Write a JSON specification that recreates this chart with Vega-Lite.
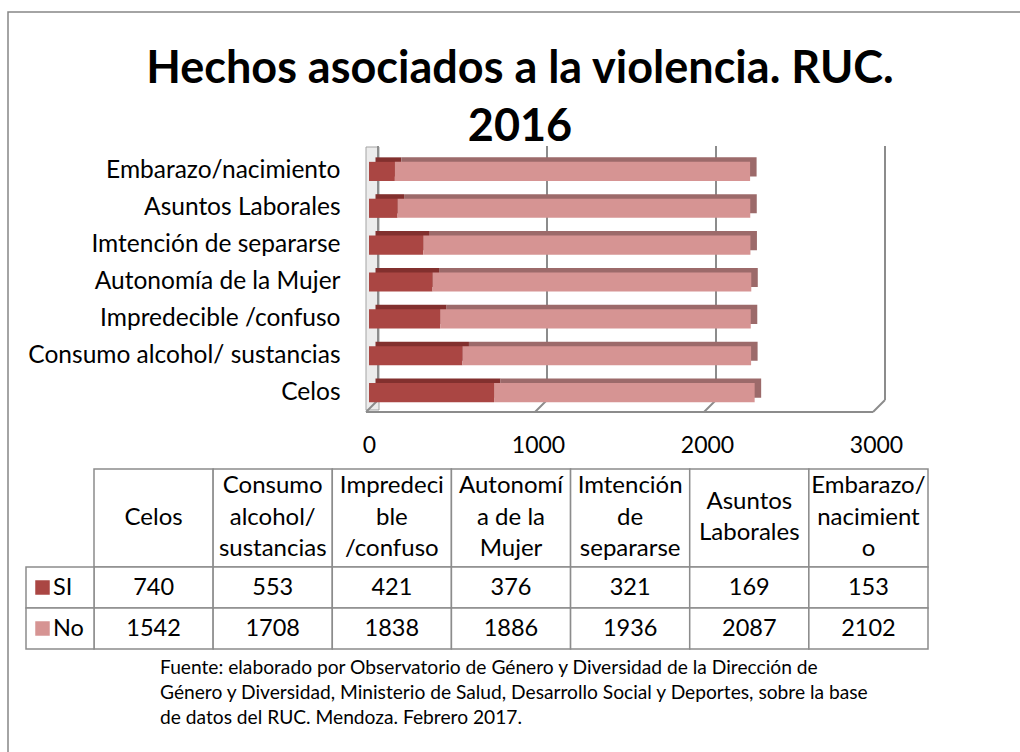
{
  "$schema": "https://vega.github.io/schema/vega-lite/v6.json",
  "width": 507,
  "height": 258,
  "autosize": {"type": "none"},
  "padding": {"left": 369, "top": 153, "right": 144, "bottom": 341},
  "background": "white",
  "config": {"view": {"stroke": null}, "font": "Lato"},
  "datasets": {
    "bars": [
      {"cat": "Celos", "serie": "SI", "value": 740},
      {"cat": "Celos", "serie": "No", "value": 1542},
      {"cat": "Consumo alcohol/ sustancias", "serie": "SI", "value": 553},
      {"cat": "Consumo alcohol/ sustancias", "serie": "No", "value": 1708},
      {"cat": "Impredecible /confuso\u00a0", "serie": "SI", "value": 421},
      {"cat": "Impredecible /confuso\u00a0", "serie": "No", "value": 1838},
      {"cat": "Autonomía de la Mujer", "serie": "SI", "value": 376},
      {"cat": "Autonomía de la Mujer", "serie": "No", "value": 1886},
      {"cat": "Imtención de separarse", "serie": "SI", "value": 321},
      {"cat": "Imtención de separarse", "serie": "No", "value": 1936},
      {"cat": "Asuntos Laborales", "serie": "SI", "value": 169},
      {"cat": "Asuntos Laborales", "serie": "No", "value": 2087},
      {"cat": "Embarazo/nacimiento", "serie": "SI", "value": 153},
      {"cat": "Embarazo/nacimiento", "serie": "No", "value": 2102}
    ],
    "cats": [
      {"cat": "Celos"},
      {"cat": "Consumo alcohol/ sustancias"},
      {"cat": "Impredecible /confuso\u00a0"},
      {"cat": "Autonomía de la Mujer"},
      {"cat": "Imtención de separarse"},
      {"cat": "Asuntos Laborales"},
      {"cat": "Embarazo/nacimiento"}
    ],
    "hdrlines": [
      {"cat": "Celos", "slot": "c", "txt": "Celos"},
      {"cat": "Consumo alcohol/ sustancias", "slot": "a", "txt": "Consumo"},
      {"cat": "Consumo alcohol/ sustancias", "slot": "c", "txt": "alcohol/"},
      {"cat": "Consumo alcohol/ sustancias", "slot": "e", "txt": "sustancias"},
      {"cat": "Impredecible /confuso\u00a0", "slot": "a", "txt": "Impredeci"},
      {"cat": "Impredecible /confuso\u00a0", "slot": "c", "txt": "ble"},
      {"cat": "Impredecible /confuso\u00a0", "slot": "e", "txt": "/confuso"},
      {"cat": "Autonomía de la Mujer", "slot": "a", "txt": "Autonomí"},
      {"cat": "Autonomía de la Mujer", "slot": "c", "txt": "a de la"},
      {"cat": "Autonomía de la Mujer", "slot": "e", "txt": "Mujer"},
      {"cat": "Imtención de separarse", "slot": "a", "txt": "Imtención"},
      {"cat": "Imtención de separarse", "slot": "c", "txt": "de"},
      {"cat": "Imtención de separarse", "slot": "e", "txt": "separarse"},
      {"cat": "Asuntos Laborales", "slot": "b", "txt": "Asuntos"},
      {"cat": "Asuntos Laborales", "slot": "d", "txt": "Laborales"},
      {"cat": "Embarazo/nacimiento", "slot": "a", "txt": "Embarazo/"},
      {"cat": "Embarazo/nacimiento", "slot": "c", "txt": "nacimient"},
      {"cat": "Embarazo/nacimiento", "slot": "e", "txt": "o"}
    ],
    "series": [{"serie": "SI"}, {"serie": "No"}],
    "grid": [{"v": 0}, {"v": 1000}, {"v": 2000}, {"v": 3000}],
    "titletext": [{"txt": "Hechos asociados a la violencia. RUC.\n2016"}],
    "note": [{"txt": "Fuente: elaborado por Observatorio de Género y Diversidad de la Dirección de\nGénero y Diversidad, Ministerio de  Salud, Desarrollo Social y Deportes, sobre la base\nde datos del RUC.  Mendoza. Febrero 2017."}],
    "frame": [{"k": "frame"}]
  },
  "layer": [
    {
      "data": {"name": "frame"},
      "mark": {"type": "rect", "filled": false, "stroke": "#868686", "strokeWidth": 1.5},
      "encoding": {
        "x": {"datum": 0, "type": "quantitative", "scale": {"domain": [0, 1], "range": [-361, 660]}, "axis": null},
        "x2": {"datum": 1},
        "y": {"datum": 0, "type": "quantitative", "scale": {"domain": [0, 1], "range": [-141, 605]}, "axis": null},
        "y2": {"datum": 1}
      }
    },
    {
      "data": {"name": "titletext"},
      "mark": {"type": "text", "font": "Lato", "fontSize": 45, "fontWeight": "bold", "lineHeight": 58, "lineBreak": "\n", "baseline": "middle", "align": "center", "color": "#000000"},
      "encoding": {
        "x": {"datum": "t", "type": "nominal", "scale": {"domain": ["t"], "range": [141, 161], "paddingInner": 0, "paddingOuter": 0}, "axis": null},
        "y": {"datum": "t", "type": "nominal", "scale": {"domain": ["t"], "range": [-94.3, -74.3], "paddingInner": 0, "paddingOuter": 0}, "axis": null},
        "text": {"field": "txt", "type": "nominal"}
      }
    },
    {
      "data": {"name": "frame"},
      "mark": {"type": "rect", "fill": "#ececec", "stroke": "#a3a3a3", "strokeWidth": 1},
      "encoding": {
        "x": {"datum": 0, "type": "quantitative", "scale": {"domain": [0, 1], "range": [-3, 10]}, "axis": null},
        "x2": {"datum": 1},
        "y": {"datum": 0, "type": "quantitative", "scale": {"domain": [0, 1], "range": [-6, 257]}, "axis": null},
        "y2": {"datum": 1}
      }
    },
    {
      "data": {"name": "grid"},
      "mark": {"type": "rule", "color": "#8c8c8c", "strokeWidth": 2},
      "encoding": {
        "x": {"field": "v", "type": "quantitative", "scale": {"domain": [0, 3000], "range": [9, 516]}, "axis": null},
        "y": {"datum": 0, "type": "quantitative", "scale": {"domain": [0, 1], "range": [-7, 247]}, "axis": null},
        "y2": {"datum": 1}
      }
    },
    {
      "data": {"name": "grid"},
      "mark": {"type": "point", "shape": "M0,0L1,-1", "filled": false, "size": 576, "stroke": "#8c8c8c", "strokeWidth": 2, "opacity": 1},
      "encoding": {
        "x": {"field": "v", "type": "quantitative", "scale": {"domain": [0, 3000], "range": [-3, 504]}, "axis": null},
        "y": {"datum": 0, "type": "quantitative", "scale": {"domain": [0, 1], "range": [259, 260]}, "axis": null}
      }
    },
    {
      "data": {"name": "frame"},
      "mark": {"type": "rule", "color": "#8c8c8c", "strokeWidth": 2},
      "encoding": {
        "x": {"datum": 0, "type": "quantitative", "scale": {"domain": [0, 3000], "range": [-3, 504]}, "axis": null},
        "x2": {"datum": 3000},
        "y": {"datum": 0, "type": "quantitative", "scale": {"domain": [0, 1], "range": [259, 260]}, "axis": null}
      }
    },
    {
      "data": {"name": "bars"},
      "mark": {"type": "bar"},
      "encoding": {
        "y": {"field": "cat", "type": "nominal", "sort": null, "scale": {"domain": ["Embarazo/nacimiento", "Asuntos Laborales", "Imtención de separarse", "Autonomía de la Mujer", "Impredecible /confuso\u00a0", "Consumo alcohol/ sustancias", "Celos"], "range": [-4.5, 253.5], "paddingInner": 0.48, "paddingOuter": 0.24}, "axis": null},
        "x": {"field": "value", "type": "quantitative", "stack": "zero", "scale": {"domain": [0, 3000], "range": [6.5, 513.5]}, "axis": null},
        "color": {"field": "serie", "type": "nominal", "scale": {"domain": ["SI", "No"], "range": ["#82302e", "#9c6a6a"]}, "legend": null},
        "order": {"field": "serie", "sort": "descending"}
      }
    },
    {
      "data": {"name": "bars"},
      "mark": {"type": "bar"},
      "encoding": {
        "y": {"field": "cat", "type": "nominal", "sort": null, "scale": {"domain": ["Embarazo/nacimiento", "Asuntos Laborales", "Imtención de separarse", "Autonomía de la Mujer", "Impredecible /confuso\u00a0", "Consumo alcohol/ sustancias", "Celos"], "range": [0, 258], "paddingInner": 0.48, "paddingOuter": 0.24},
          "axis": {"title": null, "domain": false, "ticks": false, "tickSize": 0, "labelFont": "Lato", "labelFontSize": 24.5, "labelColor": "#000000", "labelPadding": 29, "labelLimit": 400}},
        "x": {"field": "value", "type": "quantitative", "stack": "zero", "scale": {"domain": [0, 3000], "range": [0, 507]},
          "axis": {"title": null, "domain": false, "ticks": false, "tickSize": 0, "grid": false, "values": [0, 1000, 2000, 3000], "format": "d", "labelFont": "Lato", "labelFontSize": 23, "labelColor": "#000000", "labelPadding": 23, "labelFlush": false}},
        "color": {"field": "serie", "type": "nominal", "scale": {"domain": ["SI", "No"], "range": ["#aa4643", "#d69493"]}, "legend": null},
        "order": {"field": "serie", "sort": "descending"}
      }
    },
    {
      "data": {"name": "cats"},
      "mark": {"type": "rect", "fill": "white", "stroke": "#8c8c8c", "strokeWidth": 1.5},
      "encoding": {
        "x": {"field": "cat", "type": "nominal", "sort": null, "scale": {"domain": ["Celos", "Consumo alcohol/ sustancias", "Impredecible /confuso\u00a0", "Autonomía de la Mujer", "Imtención de separarse", "Asuntos Laborales", "Embarazo/nacimiento"], "range": [-275, 559], "paddingInner": 0, "paddingOuter": 0}, "axis": null},
        "y": {"datum": "h", "type": "nominal", "scale": {"domain": ["h"], "range": [316, 414], "paddingInner": 0, "paddingOuter": 0}, "axis": null}
      }
    },
    {
      "data": {"name": "hdrlines"},
      "mark": {"type": "text", "font": "Lato", "fontSize": 24, "baseline": "middle", "align": "center", "color": "#000000"},
      "encoding": {
        "x": {"field": "cat", "type": "nominal", "sort": null, "scale": {"domain": ["Celos", "Consumo alcohol/ sustancias", "Impredecible /confuso\u00a0", "Autonomía de la Mujer", "Imtención de separarse", "Asuntos Laborales", "Embarazo/nacimiento"], "range": [-275, 559], "paddingInner": 0, "paddingOuter": 0}, "axis": null},
        "y": {"field": "slot", "type": "nominal", "sort": null, "scale": {"type": "point", "domain": ["a", "b", "c", "d", "e"], "range": [333, 396], "padding": 0}, "axis": null},
        "text": {"field": "txt", "type": "nominal"}
      }
    },
    {
      "data": {"name": "bars"},
      "mark": {"type": "rect", "fill": "white", "stroke": "#8c8c8c", "strokeWidth": 1.5},
      "encoding": {
        "x": {"field": "cat", "type": "nominal", "sort": null, "scale": {"domain": ["Celos", "Consumo alcohol/ sustancias", "Impredecible /confuso\u00a0", "Autonomía de la Mujer", "Imtención de separarse", "Asuntos Laborales", "Embarazo/nacimiento"], "range": [-275, 559], "paddingInner": 0, "paddingOuter": 0}, "axis": null},
        "y": {"field": "serie", "type": "nominal", "sort": null, "scale": {"domain": ["SI", "No"], "range": [414, 496], "paddingInner": 0, "paddingOuter": 0}, "axis": null}
      }
    },
    {
      "data": {"name": "bars"},
      "mark": {"type": "text", "font": "Lato", "fontSize": 23.5, "baseline": "middle", "align": "center", "color": "#000000"},
      "encoding": {
        "x": {"field": "cat", "type": "nominal", "sort": null, "scale": {"domain": ["Celos", "Consumo alcohol/ sustancias", "Impredecible /confuso\u00a0", "Autonomía de la Mujer", "Imtención de separarse", "Asuntos Laborales", "Embarazo/nacimiento"], "range": [-275, 559], "paddingInner": 0, "paddingOuter": 0}, "axis": null},
        "y": {"field": "serie", "type": "nominal", "sort": null, "scale": {"domain": ["SI", "No"], "range": [414, 496], "paddingInner": 0, "paddingOuter": 0}, "axis": null},
        "text": {"field": "value", "type": "quantitative", "format": "d"}
      }
    },
    {
      "data": {"name": "series"},
      "mark": {"type": "rect", "fill": "white", "stroke": "#8c8c8c", "strokeWidth": 1.5},
      "encoding": {
        "x": {"datum": "leg", "type": "nominal", "scale": {"domain": ["leg"], "range": [-343, -275], "paddingInner": 0, "paddingOuter": 0}, "axis": null},
        "y": {"field": "serie", "type": "nominal", "sort": null, "scale": {"domain": ["SI", "No"], "range": [414, 496], "paddingInner": 0, "paddingOuter": 0}, "axis": null}
      }
    },
    {
      "data": {"name": "series"},
      "mark": {"type": "point", "shape": "square", "filled": true, "size": 210, "opacity": 1},
      "encoding": {
        "x": {"datum": "sq", "type": "nominal", "scale": {"domain": ["sq"], "range": [-351, -302], "paddingInner": 0, "paddingOuter": 0}, "axis": null},
        "y": {"field": "serie", "type": "nominal", "sort": null, "scale": {"domain": ["SI", "No"], "range": [414, 496], "paddingInner": 0, "paddingOuter": 0}, "axis": null},
        "color": {"field": "serie", "type": "nominal", "scale": {"domain": ["SI", "No"], "range": ["#aa4643", "#d69493"]}, "legend": null}
      }
    },
    {
      "data": {"name": "series"},
      "mark": {"type": "text", "font": "Lato", "fontSize": 23.5, "baseline": "middle", "align": "left", "color": "#000000"},
      "encoding": {
        "x": {"datum": "t", "type": "nominal", "scale": {"domain": ["t"], "range": [-326, -306], "paddingInner": 0, "paddingOuter": 0}, "axis": null},
        "y": {"field": "serie", "type": "nominal", "sort": null, "scale": {"domain": ["SI", "No"], "range": [414, 496], "paddingInner": 0, "paddingOuter": 0}, "axis": null},
        "text": {"field": "serie", "type": "nominal"}
      }
    },
    {
      "data": {"name": "note"},
      "mark": {"type": "text", "font": "Lato", "fontSize": 19.2, "lineHeight": 25, "lineBreak": "\n", "baseline": "middle", "align": "left", "color": "#000000"},
      "encoding": {
        "x": {"datum": "n", "type": "nominal", "scale": {"domain": ["n"], "range": [-219, -199], "paddingInner": 0, "paddingOuter": 0}, "axis": null},
        "y": {"datum": "n", "type": "nominal", "scale": {"domain": ["n"], "range": [505, 525], "paddingInner": 0, "paddingOuter": 0}, "axis": null},
        "text": {"field": "txt", "type": "nominal"}
      }
    }
  ],
  "resolve": {"scale": {"x": "independent", "y": "independent", "color": "independent"}}
}
